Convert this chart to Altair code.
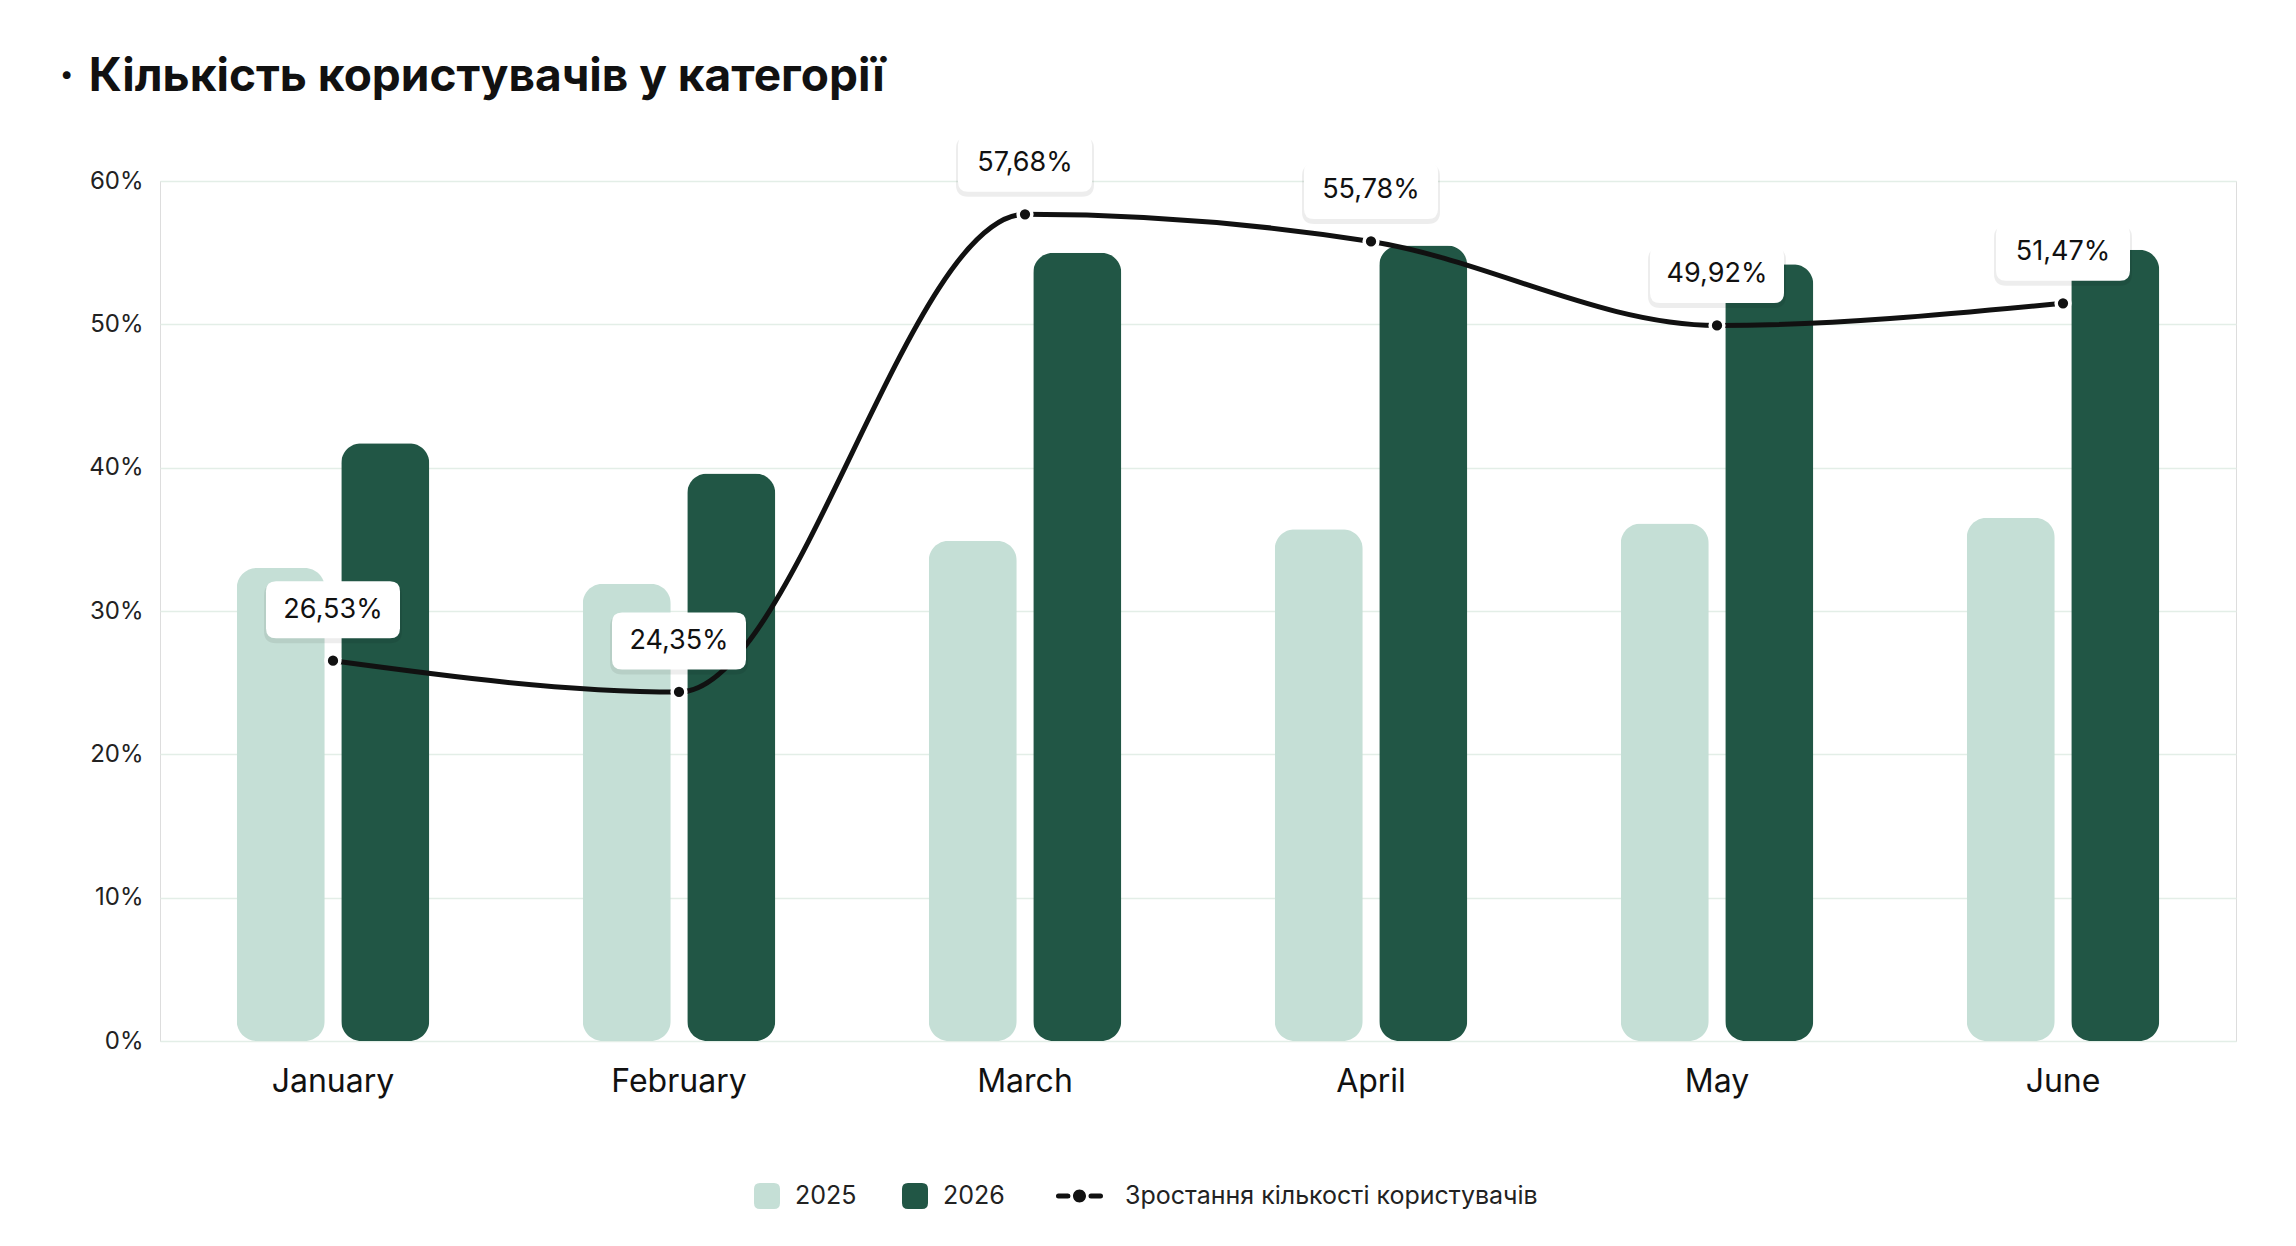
import altair as alt
import pandas as pd

months = ["January", "February", "March", "April", "May", "June"]
years = ["2025", "2026"]
values_2025 = [33.0, 31.9, 34.9, 35.7, 36.1, 36.5]
values_2026 = [41.7, 39.6, 55.0, 55.5, 54.2, 55.2]
growth = [26.53, 24.35, 57.68, 55.78, 49.92, 51.47]
line_name = "Зростання кількості користувачів"
y_ticks = [0, 10, 20, 30, 40, 50, 60]
bar_colors = ["#c5dfd6", "#215645"]
line_color = "#111111"
title_text = "·\u00a0\u200aКількість користувачів у категорії"

bars_df = pd.DataFrame({
    "month": months * 2,
    "key": [years[0]] * len(months) + [years[1]] * len(months),
    "value": values_2025 + values_2026,
})
line_df = pd.DataFrame({"month": months, "value": growth, "key": [line_name] * len(months)})

FONT = "Inter"


def f(v):
    return f"{v:.4f}"


def rrect(x0, x1, y0, y1, r, s):
    x0, x1, y0, y1, r = x0 / s, x1 / s, y0 / s, y1 / s, r / s
    return (f"M{f(x0+r)},{f(y0)}L{f(x1-r)},{f(y0)}Q{f(x1)},{f(y0)} {f(x1)},{f(y0+r)}"
            f"L{f(x1)},{f(y1-r)}Q{f(x1)},{f(y1)} {f(x1-r)},{f(y1)}"
            f"L{f(x0+r)},{f(y1)}Q{f(x0)},{f(y1)} {f(x0)},{f(y1-r)}"
            f"L{f(x0)},{f(y0+r)}Q{f(x0)},{f(y0)} {f(x0+r)},{f(y0)}Z")


def circ(cx, cy, r, s):
    cx, cy, r = cx / s, cy / s, r / s
    k = 0.5523 * r
    return (f"M{f(cx+r)},{f(cy)}C{f(cx+r)},{f(cy+k)} {f(cx+k)},{f(cy+r)} {f(cx)},{f(cy+r)}"
            f"C{f(cx-k)},{f(cy+r)} {f(cx-r)},{f(cy+k)} {f(cx-r)},{f(cy)}"
            f"C{f(cx-r)},{f(cy-k)} {f(cx-k)},{f(cy-r)} {f(cx)},{f(cy-r)}"
            f"C{f(cx+k)},{f(cy-r)} {f(cx+r)},{f(cy-k)} {f(cx+r)},{f(cy)}Z")


# label box (pixel geometry relative to the point)
BOX_W, BOX_H, BOX_DY, BOX_R = 134, 57, -51, 10
bs = BOX_W / 2
box_size = BOX_W * BOX_W
box_path = rrect(-BOX_W / 2, BOX_W / 2, BOX_DY - BOX_H / 2, BOX_DY + BOX_H / 2, BOX_R, bs)
shadow_path = rrect(-BOX_W / 2 - 2, BOX_W / 2 + 2, BOX_DY - BOX_H / 2 + 2, BOX_DY + BOX_H / 2 + 5, BOX_R + 2, bs)

# legend symbols
LS = 30  # slot half width
sq_path = rrect(-5, 21, -13, 13, 6, LS)
lc = -9.5
line_path = (rrect(-33, lc - 9, -2.6, 2.6, 2.5, LS) + rrect(lc + 9, 14, -2.6, 2.6, 2.5, LS)
             + circ(lc, 0, 6.5, LS))

legend_common = dict(title=None, orient="none", direction="horizontal", labelFontSize=25,
                     labelFont=FONT, labelColor="#222", symbolSize=LS * LS * 4,
                     symbolStrokeWidth=0, labelOffset=6, symbolOpacity=1, labelLimit=800)

x_enc = alt.X("month:N", sort=months, title=None,
              scale=alt.Scale(paddingInner=0.4436, paddingOuter=0.2218),
              axis=alt.Axis(labelFontSize=32, labelFont=FONT, labelColor="#111", labelPadding=25,
                            ticks=False, domain=False, labelAngle=0, grid=False))
y_enc = alt.Y("value:Q", title=None, scale=alt.Scale(domain=[0, 60], nice=False),
              axis=alt.Axis(values=y_ticks, labelExpr="datum.value + '%'", labelFontSize=24,
                            labelFont=FONT, labelColor="#222", labelPadding=17, ticks=False,
                            domain=False, gridColor="#e3eee7", gridWidth=1.5))

bars = alt.Chart(bars_df).mark_bar(cornerRadius=20).encode(
    x=x_enc,
    xOffset=alt.XOffset("key:N", sort=years, scale=alt.Scale(paddingInner=0.158, paddingOuter=0)),
    y=y_enc,
    color=alt.Color("key:N", scale=alt.Scale(domain=years, range=bar_colors),
                    legend=alt.Legend(legendX=569, legendY=985, columns=2, columnPadding=20,
                                      symbolType=sq_path, **legend_common)),
)

xl = alt.X("month:N", sort=months)
yl = alt.Y("value:Q")

line = alt.Chart(line_df).mark_line(interpolate="monotone", color=line_color, strokeWidth=5).encode(
    x=xl, y=yl,
    opacity=alt.Opacity("key:N", scale=alt.Scale(domain=[line_name], range=[1]),
                        legend=alt.Legend(legendX=899, legendY=985, symbolType=line_path,
                                          symbolFillColor=line_color, symbolStrokeColor=line_color,
                                          **legend_common)),
)
points = alt.Chart(line_df).mark_circle(size=189, color=line_color, stroke="#ffffff",
                                        strokeWidth=3.5, opacity=1).encode(x=xl, y=yl)
shadow = alt.Chart(line_df).mark_point(shape=shadow_path, size=box_size, filled=True,
                                       color="#000000", opacity=0.07, strokeWidth=0).encode(x=xl, y=yl)
boxes = alt.Chart(line_df).mark_point(shape=box_path, size=box_size, filled=True,
                                      color="#ffffff", opacity=1, strokeWidth=0).encode(x=xl, y=yl)
labels = alt.Chart(line_df).transform_calculate(
    label="replace(format(datum.value, '.2f'), '.', ',') + '%'"
).mark_text(dy=BOX_DY, fontSize=27, font=FONT, color=line_color, baseline="middle",
            align="center").encode(x=xl, y=yl, text="label:N")

chart = alt.layer(bars, line, points, shadow, boxes, labels).properties(
    width=2076, height=860,
    autosize=alt.AutoSizeParams(type="none"),
    padding={"left": 152, "top": 173, "right": 52, "bottom": 197},
    title=alt.TitleParams(text=title_text, anchor="start", frame="group", dx=-101,
                          fontSize=46, font=FONT, fontWeight=700, color="#111111",
                          baseline="alphabetic", offset=-2),
).configure_view(stroke=None).configure(background="#ffffff")

chart.save("out.html", embed_options={"renderer": "svg", "actions": False})
